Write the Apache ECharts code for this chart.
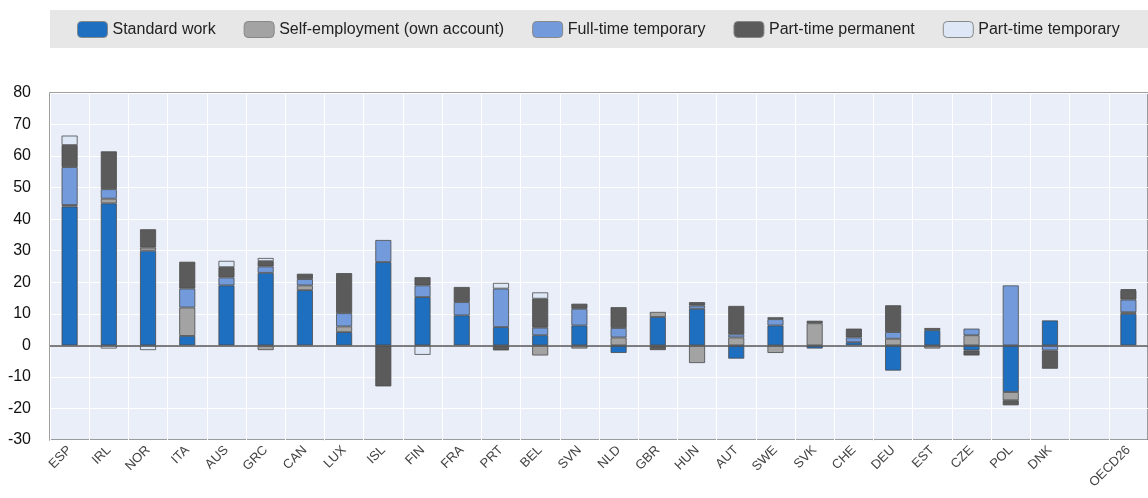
<!DOCTYPE html>
<html>
<head>
<meta charset="utf-8">
<script src="https://cdn.jsdelivr.net/npm/echarts@6/dist/echarts.min.js"></script>
<style>
html,body{margin:0;padding:0;background:#fff;}
#c{width:1148px;height:498px;}
</style>
</head>
<body>
<div id="c"></div>
<script>
const categories = ['ESP','IRL','NOR','ITA','AUS','GRC','CAN','LUX','ISL','FIN','FRA','PRT','BEL','SVN','NLD','GBR','HUN','AUT','SWE','SVK','CHE','DEU','EST','CZE','POL','DNK','','OECD26'];
const standardWork = [44, 45, 30, 3, 19, 23, 17.5, 4.2, 26.4, 15.3, 9.5, 5.8, 3.2, 6.3, -2.4, 9, 11.6, -4.2, 6.3, -1, 1, -8, 4.8, -1.6, -14.8, 7.9, null, 10];
const selfEmployment = [0.5, 1.5, 1, 9, 0, -1.5, 1.5, 1.8, 0, 0, 0, 0, -3.2, -1, 2.5, 1.6, -5.6, 2.5, -2.4, 7, 0, 2.1, -1, 3.2, -2.6, 0, null, 0.5];
const fullTimeTemporary = [12, 3, 0, 6, 2.5, 2, 2, 4.2, 7, 3.7, 4.2, 12.2, 2.4, 5.3, 3, 0, 1, 1, 2, 0, 1.5, 2.1, 0, 2.1, 19, -1.6, null, 4];
const partTimePermanent = [7, 12, 5.8, 8.5, 3.3, 1.7, 1.7, 12.7, -13, 2.6, 4.8, -1.6, 9.2, 1.6, 6.6, -1.5, 1.1, 9, 0.6, 0.8, 2.8, 8.5, 0.7, -1.6, -1.6, -5.8, null, 3];
const partTimeTemporary = [3, -1, -1.5, 0, 2, 1, 0, 0, 0, -3, 0, 1.8, 2, 0, 0, 0, 0, 0, 0, 0, 0, 0, 0, 0, 0, 0, null, 0.3];
const yTicks = [-30, 80, 10];

const seriesDefs = [
  {name:'Standard work', data:standardWork, color:'#1f6fc1'},
  {name:'Self-employment (own account)', data:selfEmployment, color:'#a3a3a3'},
  {name:'Full-time temporary', data:fullTimeTemporary, color:'#739bdb'},
  {name:'Part-time permanent', data:partTimePermanent, color:'#5b5b5b'},
  {name:'Part-time temporary', data:partTimeTemporary, color:'#dde7f6'}
];

const chart = echarts.init(document.getElementById('c'), null, {renderer:'canvas'});
const series = seriesDefs.map((s, i) => ({
  name: s.name,
  type: 'bar',
  stack: 'total',
  barWidth: 16,
  data: s.data.map(v => v === 0 ? null : v),
  itemStyle: {color: s.color, borderColor: '#4a4a4a', borderWidth: 0.8},
  markLine: i === 0 ? {
    silent: true, symbol: ['none','none'], label:{show:false},
    lineStyle:{color:'#555', width:1.5, type:'solid'},
    data:[{yAxis:0}]
  } : undefined
}));

chart.setOption({
  animation: false,
  textStyle: {fontFamily: 'Liberation Sans, Arial, sans-serif'},
  graphic: [{
    type: 'rect', left: 50, top: 10, shape: {width: 1098, height: 38},
    style: {fill: '#e7e7e7'}, silent: true, z: -10
  }],
  legend: {
    left: 77, top: 21, padding: 0,
    itemWidth: 30, itemHeight: 16, itemGap: 28,
    textStyle: {fontSize: 16, color: '#222', fontFamily: 'Liberation Sans, Arial, sans-serif'},
    data: seriesDefs.map(s => ({name: s.name, itemStyle: {color: s.color, borderColor: '#888', borderWidth: 1}}))
  },
  grid: {
    left: 50, top: 93, width: 1106, bottom: 58,
    show: true, backgroundColor: '#e9eef9', borderColor: '#808080', borderWidth: 1.5
  },
  xAxis: {
    type: 'category', data: categories,
    axisLine: {show: false, onZero: false},
    axisTick: {show: false},
    splitLine: {show: true, lineStyle: {color: '#ffffff', width: 1}},
    axisLabel: {rotate: 45, fontSize: 13, color: '#444', margin: 8, interval: 0}
  },
  yAxis: {
    type: 'value', min: yTicks[0], max: yTicks[1], interval: yTicks[2],
    axisLine: {show: false}, axisTick: {show: false},
    splitLine: {show: true, lineStyle: {color: '#ffffff', width: 1}},
    axisLabel: {fontSize: 16, color: '#111', margin: 19}
  },
  series: series
});
</script>
</body>
</html>
